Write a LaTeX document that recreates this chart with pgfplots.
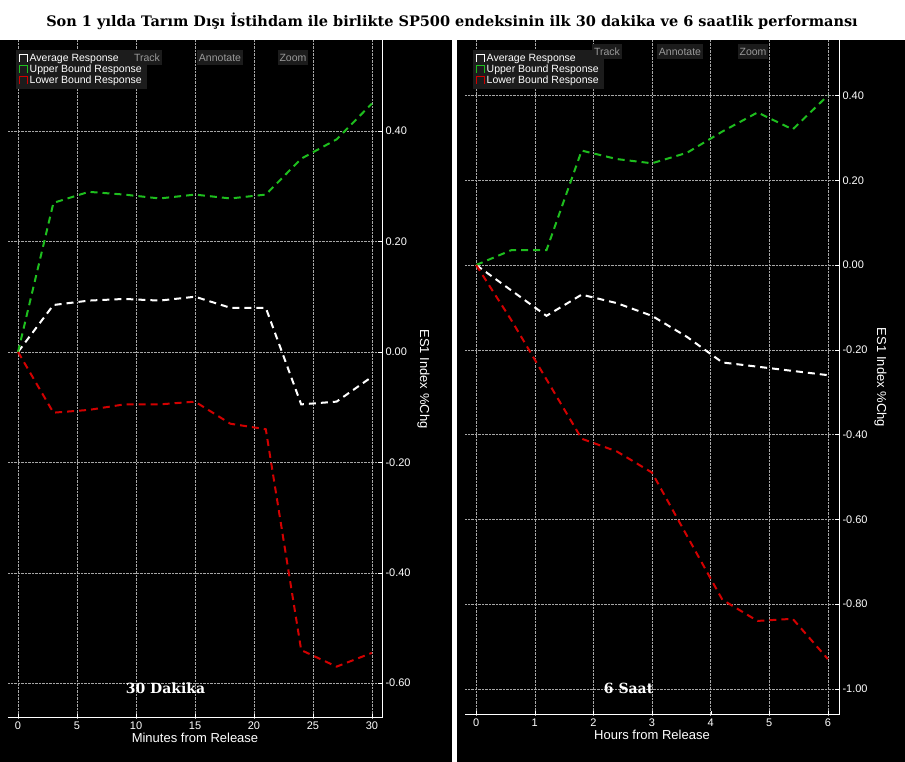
\documentclass[border=0pt]{standalone}
\usepackage{pgfplots}
\pgfplotsset{compat=1.18}
\usepackage{fontspec}
\setmainfont{Liberation Sans}
\newfontfamily\titlefont{DejaVu Serif}
\definecolor{ugreen}{RGB}{30,190,30}
\definecolor{lred}{RGB}{210,0,0}
\definecolor{tbar}{RGB}{28,28,28}
\pgfplotsset{
 common/.style={scale only axis, axis line style={white,line width=1pt}, axis x line*=bottom, axis y line*=right,
  tick style={white}, ticklabel style={white,font=\fontsize{11}{12}\selectfont},
  grid=major, grid style={gray!70,densely dotted},
  label style={white,font=\fontsize{13}{14}\selectfont},
  /pgf/number format/assume math mode=true,
  yticklabel style={/pgf/number format/fixed,/pgf/number format/fixed zerofill,/pgf/number format/precision=2},
  every axis plot/.append style={line width=2pt, dash pattern=on 7pt off 5pt},
  legend style={at={(0.02,0.985)},anchor=north west,fill=tbar,draw=none,text=white,font=\fontsize{10.5}{11}\selectfont,row sep=-2pt},
  legend cell align=left,
  legend image code/.code={\draw[#1,line width=1pt,solid](0pt,-3pt)--(0pt,4pt)--(8pt,4pt)--(8pt,-3pt);},
  xlabel style={yshift=3pt},
 }}
\begin{document}
\begin{tikzpicture}
\useasboundingbox (0pt,0pt) rectangle (905pt,762pt);
\fill[white](0pt,0pt) rectangle (905pt,762pt);
\fill[black](0pt,0pt) rectangle (452pt,722pt);
\fill[black](457pt,0pt) rectangle (905pt,722pt);
\node[anchor=center,font=\titlefont\bfseries\fontsize{14.5}{15}\selectfont] at (452pt,741pt) {Son 1 yılda Tarım Dışı İstihdam ile birlikte SP500 endeksinin ilk 30 dakika ve 6 saatlik performansı};
\begin{axis}[common, at={(8pt,44pt)}, anchor=south west, width=374pt, height=678pt,
 xmin=-0.85, xmax=30.85, ymin=-0.663, ymax=0.565,
 xtick={0,5,...,30}, ytick={-0.6,-0.4,-0.2,0,0.2,0.4},
 xlabel={Minutes from Release}, ylabel={ES1 Index \%Chg},
 ylabel style={rotate=180}]
\addplot[white] coordinates {(0,0)(3,0.085)(6,0.093)(9,0.096)(12,0.093)(15,0.10)(18,0.08)(21,0.08)(24,-0.095)(27,-0.09)(30,-0.045)};
\addlegendentry{Average Response}
\addplot[ugreen] coordinates {(0,0)(3,0.27)(6,0.29)(9,0.285)(12,0.278)(15,0.285)(18,0.278)(21,0.285)(24,0.35)(27,0.385)(30,0.45)};
\addlegendentry{Upper Bound Response}
\addplot[lred] coordinates {(0,0)(3,-0.11)(6,-0.105)(9,-0.095)(12,-0.095)(15,-0.09)(18,-0.13)(21,-0.14)(24,-0.54)(27,-0.57)(30,-0.545)};
\addlegendentry{Lower Bound Response}
\node[white,font=\titlefont\bfseries\fontsize{14}{15}\selectfont] at (axis cs:12.5,-0.61) {30 Dakika};
\end{axis}
\begin{axis}[common, at={(465pt,47pt)}, anchor=south west, width=374pt, height=675pt,
 xmin=-0.19, xmax=6.19, ymin=-1.062, ymax=0.531,
 xtick={0,...,6}, ytick={-1,-0.8,...,0.41},
 xlabel={Hours from Release}, ylabel={ES1 Index \%Chg},
 ylabel style={rotate=180}]
\addplot[white] coordinates {(0,0)(0.6,-0.06)(1.2,-0.12)(1.8,-0.07)(2.4,-0.09)(3,-0.12)(3.6,-0.17)(4.2,-0.23)(4.8,-0.24)(5.4,-0.25)(6,-0.26)};
\addlegendentry{Average Response}
\addplot[ugreen] coordinates {(0,0)(0.6,0.035)(1.2,0.035)(1.8,0.27)(2.4,0.25)(3,0.24)(3.6,0.265)(4.2,0.315)(4.8,0.36)(5.4,0.32)(6,0.40)};
\addlegendentry{Upper Bound Response}
\addplot[lred] coordinates {(0,0)(0.6,-0.13)(1.2,-0.27)(1.8,-0.41)(2.4,-0.44)(3,-0.49)(3.6,-0.64)(4.2,-0.79)(4.8,-0.84)(5.4,-0.835)(6,-0.93)};
\addlegendentry{Lower Bound Response}
\node[white,font=\titlefont\bfseries\fontsize{14}{15}\selectfont] at (axis cs:2.6,-1.0) {6 Saat};
\end{axis}
\foreach \x/\t in {147/Track,220/Annotate,293/Zoom}{
 \node[fill=tbar,text=gray!80,font=\fontsize{10.5}{11}\selectfont,inner sep=2pt,minimum height=15pt] at (\x pt,704pt) {\t};}
\foreach \x/\t in {607/Track,680/Annotate,753/Zoom}{
 \node[fill=tbar,text=gray!80,font=\fontsize{10.5}{11}\selectfont,inner sep=2pt,minimum height=15pt] at (\x pt,710pt) {\t};}
\end{tikzpicture}
\end{document}
